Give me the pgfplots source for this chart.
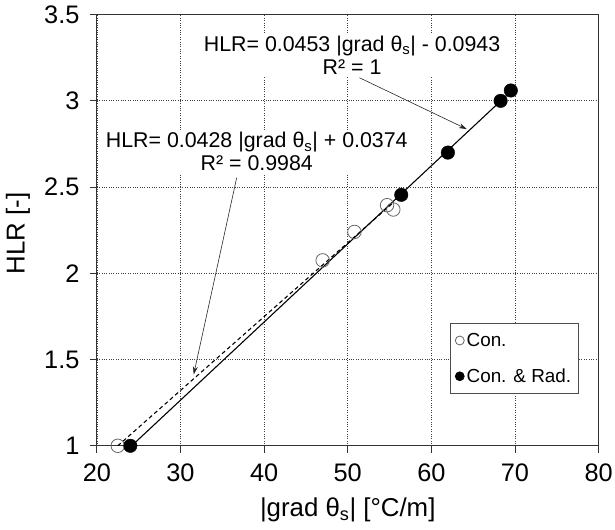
\documentclass[border=0pt]{standalone}
\usepackage{fontspec}
\setmainfont{Liberation Sans}
\usepackage{pgfplots}
\pgfplotsset{compat=1.18}
\usetikzlibrary{arrows.meta}

\begin{document}
\begin{tikzpicture}
\path[use as bounding box] (-97.5bp,-84.3bp) rectangle (521.5bp,448.7bp);
\begin{axis}[
  scale only axis, width=505bp, height=434bp,
  xmin=20, xmax=80, ymin=1, ymax=3.5,
  xtick={20,30,40,50,60,70,80},
  ytick={1,1.5,2,2.5,3,3.5},
  tick align=outside, major tick length=7bp, tick pos=left,
  grid=major, grid style={dotted, black!75, line width=0.7bp},
  axis line style={black!80, line width=0.9bp},
  tick style={black!80, line width=0.9bp},
  /pgf/number format/assume math mode=true,
  ticklabel style={font=\fontsize{25.5bp}{29bp}\selectfont},
  xticklabel style={yshift=-8bp},
  yticklabel style={xshift=-7bp},
  xlabel={|grad θ\textsubscript{s}| [°C/m]},
  ylabel={HLR [-]},
  label style={font=\fontsize{26bp}{30bp}\selectfont},
  xlabel style={at={(axis description cs:0.5,0)}, anchor=center, yshift=-64.5bp},
  ylabel style={at={(axis description cs:0,0.492)}, anchor=center, yshift=79.5bp},
  legend style={at={(0.703,0.285)}, anchor=north west, draw=black!70, line width=0.7bp,
    font=\fontsize{19bp}{22bp}\selectfont, inner xsep=5bp, inner ysep=8bp,
    row sep=17bp, cells={anchor=west}},
]
\addlegendimage{legend image code/.code={\draw[black!60,line width=0.8bp] (4bp,0bp) circle (4.5bp);}}
\addlegendentry{Con.}
\addlegendimage{legend image code/.code={\fill[black] (4bp,0bp) circle (4.5bp);}}
\addlegendentry{Con. \& Rad.}

\addplot[only marks, mark=o, mark size=6.8bp, mark options={draw=black!60, line width=0.8bp}, forget plot]
coordinates {(22.5,1.0) (47.0,2.075) (50.8,2.24) (54.7,2.395) (55.45,2.37)};
\addplot[dashed, dash pattern=on 4bp off 3bp, line width=1.1bp, black, forget plot]
coordinates {(22.5,1.0) (55.4,2.408)};
\addplot[solid, line width=1.1bp, black, forget plot]
coordinates {(24.16,1.0) (69.5,3.054)};
\addplot[only marks, mark=*, mark size=6.8bp, mark options={fill=black, draw=black}, forget plot]
coordinates {(24.0,1.0) (56.4,2.455) (61.98,2.70) (68.28,3.00) (69.5,3.06)};

\draw[-{Stealth[length=8bp,width=5bp]}, line width=0.6bp, black!85] (axis cs:51.4,3.134) -- (axis cs:64.24,2.836);
\draw[-{Stealth[length=8bp,width=5bp]}, line width=0.6bp, black!85] (axis cs:36.72,2.554) -- (axis cs:31.58,1.414);

\node[fill=white, align=center, inner sep=2bp, font=\fontsize{21.5bp}{23bp}\selectfont]
  at (axis cs:50.52,3.263) {HLR= 0.0453 |grad θ\textsubscript{s}| - 0.0943\\R² = 1};
\node[fill=white, align=center, inner sep=2bp, font=\fontsize{21.5bp}{23bp}\selectfont]
  at (axis cs:39.12,2.705) {HLR= 0.0428 |grad θ\textsubscript{s}| + 0.0374\\R² = 0.9984};
\end{axis}
\end{tikzpicture}
\end{document}
